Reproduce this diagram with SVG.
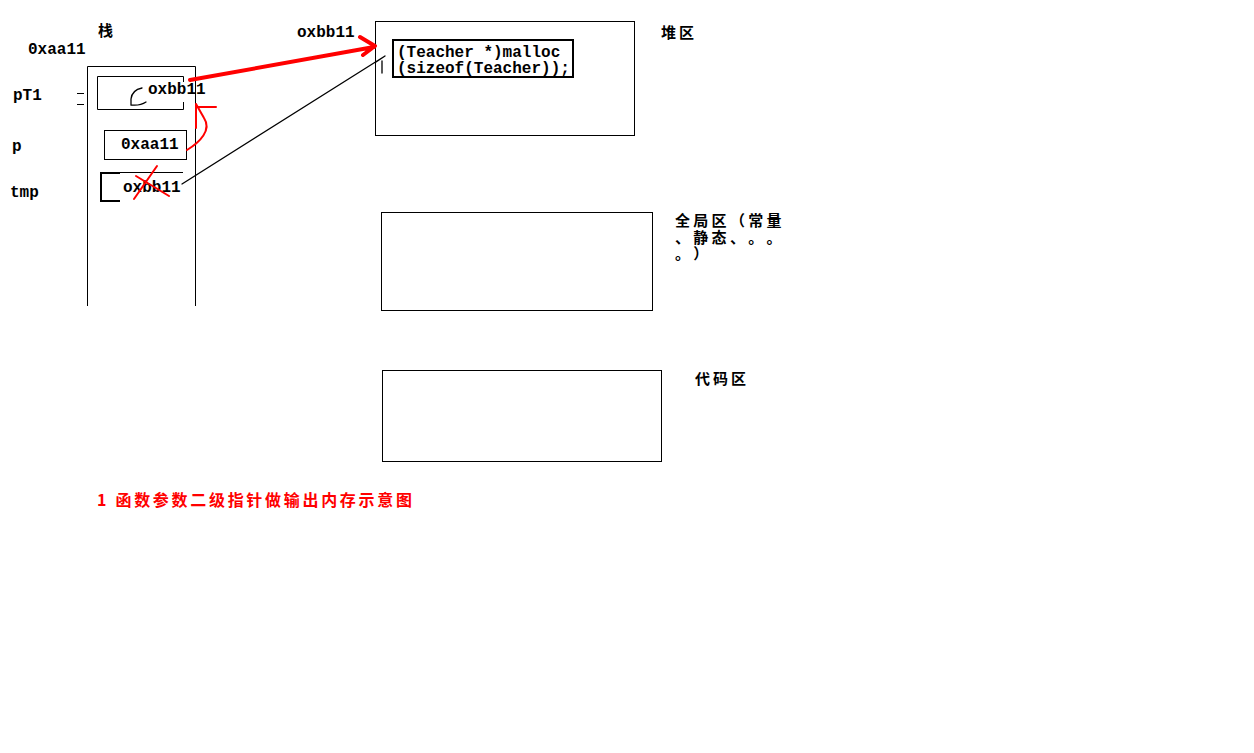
<svg xmlns="http://www.w3.org/2000/svg" width="1254" height="753" viewBox="0 0 1254 753">
<style>
.box{fill:none;stroke:#000;stroke-width:1}
.thick{fill:none;stroke:#000;stroke-width:2}
.mono{font-family:"Liberation Mono","DejaVu Sans Mono",monospace;font-weight:bold;font-size:16px;fill:#000}
.cjk{font-family:"Noto Sans CJK SC","Noto Sans CJK JP",sans-serif;font-weight:bold;font-size:15px;letter-spacing:3px;fill:#000}
.cjk2{font-family:"Noto Sans CJK SC","Noto Sans CJK JP",sans-serif;font-weight:bold;font-size:15px;fill:#000}
.red{fill:none;stroke:#ff0000;stroke-width:2;stroke-linecap:round;stroke-linejoin:round}
.redT{fill:none;stroke:#ff0000;stroke-width:4;stroke-linecap:round;stroke-linejoin:round}
.blk{fill:none;stroke:#000;stroke-width:1.3;stroke-linecap:round}
</style>
<rect width="1254" height="753" fill="#fff"/>

<g id="stack">
  <path class="box" d="M87.5,306 V66.5 H195.5 V306"/>
  <text class="cjk" x="98" y="36">栈</text>
  <text class="mono" x="28" y="54">0xaa11</text>
</g>

<g id="pT1">
  <path class="box" d="M183.5,82 V76.5 H97.5 V109.5 H183.5 V102"/>
  <path class="box" d="M77,93.5 H84 M77,104.5 H84"/>
  <path class="blk" d="M142,88 Q132,90 131,99 L131,105 Q140,106 146,102"/>
  <text class="mono" x="13" y="100">pT1</text>
  <text class="mono" x="148" y="94">oxbb11</text>
</g>

<g id="p">
  <rect class="box" x="104.5" y="130.5" width="82" height="29"/>
  <text class="mono" x="12" y="151">p</text>
  <text class="mono" x="121" y="149">0xaa11</text>
</g>

<g id="tmp">
  <path class="thick" d="M120,173 H101 V201 H120"/>
  <path class="box" d="M120,172.5 H183"/>
  <text class="mono" x="10" y="197">tmp</text>
  <text class="mono" x="123" y="192">oxbb11</text>
  <path class="red" d="M157,166 L134,199 M136,176 L169,196"/>
</g>

<g id="heap">
  <rect class="box" x="375.5" y="21.5" width="259" height="114"/>
  <rect class="thick" x="393" y="40" width="180" height="37"/>
  <text class="mono" x="397" y="57">(Teacher *)malloc</text>
  <text class="mono" x="397" y="73">(sizeof(Teacher));</text>
  <text class="mono" x="297" y="37">oxbb11</text>
  <text class="cjk" x="661" y="38">堆区</text>
</g>

<g id="global">
  <rect class="box" x="381.5" y="212.5" width="271" height="98"/>
  <text class="cjk2" x="675 693.3 711.6 729.9 748.2 766.5" y="226">全局区（常量</text>
  <text class="cjk2" x="675 693.3 711.6 729.9 748.2 766.5" y="243">、静态、。。</text>
  <text class="cjk2" x="675 693.3" y="259">。）</text>
</g>

<g id="code">
  <rect class="box" x="382.5" y="370.5" width="279" height="91"/>
  <text class="cjk" x="695" y="384">代码区</text>
</g>

<g id="connectors">
  <path class="redT" d="M190,80 L374,47 M360,37 L375,46 L363,55"/>
  <path class="red" d="M187,150 C200,142 212,130 204,118 L196,104 M196,104 L196,128 M198,107 L216,107"/>
  <path class="blk" d="M182,184 L385,56 M376,62 L385,56 M382,61 L382,73"/>
</g>

<g id="caption">
  <text class="cjk" x="97" y="506" style="fill:#ff0000;font-size:16px;letter-spacing:2.7px">1 函数参数二级指针做输出内存示意图</text>
</g>
</svg>
